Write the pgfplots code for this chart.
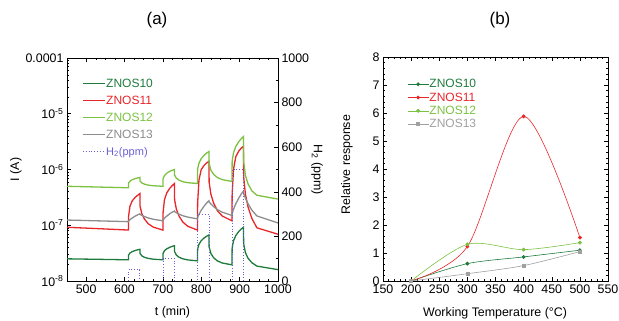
\documentclass[border=0pt]{standalone}
\usepackage{fontspec}
\setmainfont{Liberation Sans}
\usepackage{pgfplots}
\pgfplotsset{compat=1.18}
\definecolor{cA}{RGB}{30,123,60}
\definecolor{cB}{RGB}{232,38,42}
\definecolor{cC}{RGB}{124,193,66}
\definecolor{cD}{RGB}{140,140,140}
\definecolor{cE}{RGB}{160,160,160}
\definecolor{cH}{RGB}{105,95,215}
\begin{document}
\begin{tikzpicture}
\path[use as bounding box] (0pt,0pt) rectangle (619pt,321pt);
\pgfplotsset{every axis/.append style={
  font=\fontsize{12.4}{14}\selectfont,
  scale only axis, tick align=inside,
  major tick length=4pt, minor tick length=2.2pt,
  /pgf/number format/assume math mode=true,
  /pgf/number format/1000 sep={},
  axis line style={line width=0.6pt},
  every tick/.style={black, line width=0.5pt},
}}
\node[font=\fontsize{17}{20}\selectfont] at (157pt,301pt) {(a)};
\node[font=\fontsize{17}{20}\selectfont] at (500pt,301pt) {(b)};
% ---------- panel (a), left axis ----------
\begin{axis}[at={(67pt,40pt)}, anchor=south west, width=211pt, height=223pt,
  xmin=450, xmax=1000, ymode=log, ymin=1e-8, ymax=1e-4,
  xtick={500,600,...,1000}, minor x tick num=3,
  ytick={1e-8,1e-7,1e-6,1e-5,1e-4},
  yticklabels={10\textsuperscript{-8},10\textsuperscript{-7},10\textsuperscript{-6},10\textsuperscript{-5},0.0001},
  minor ytick={2e-8,3e-8,4e-8,5e-8,6e-8,7e-8,8e-8,9e-8,2e-7,3e-7,4e-7,5e-7,6e-7,7e-7,8e-7,9e-7,2e-6,3e-6,4e-6,5e-6,6e-6,7e-6,8e-6,9e-6,2e-5,3e-5,4e-5,5e-5,6e-5,7e-5,8e-5,9e-5},
  ytick pos=left,
  xlabel={t (min)}, ylabel={I (A)},
  xlabel style={at={(axis description cs:0.5,-0.139)}, anchor=center},
  ylabel style={at={(axis description cs:-0.242,0.5)}, anchor=center},
  legend style={at={(rel axis cs:0.058,0.922)}, anchor=north west, draw=none, fill=none,
    nodes={inner sep=0.5pt, text height=9pt, text depth=2pt}, row sep=5pt,
    font=\fontsize{12}{14}\selectfont},
  legend cell align=left,
  legend image code/.code={\draw[#1] (0pt,0pt) -- (22pt,0pt);},
]
\addplot[cA, line width=1.3pt] coordinates {(450,2.5e-8)(530,2.45e-8)(610,2.4e-8)(610.5,2.92e-8)(614,3.17e-8)(620,3.37e-8)(628,3.53e-8)(635,3.64e-8)(640,3.7e-8)(640.5,3.11e-8)(645,2.83e-8)(652,2.66e-8)(662,2.54e-8)(675,2.46e-8)(700,2.4e-8)
(700.5,3.12e-8)(704,3.49e-8)(710,3.78e-8)(718,4.03e-8)(725,4.20e-8)(730,4.3e-8)(730.5,3.35e-8)(735,2.92e-8)(742,2.67e-8)(752,2.50e-8)(765,2.39e-8)(790,2.3e-8)
(790.5,3.72e-8)(794,4.56e-8)(800,5.30e-8)(808,5.96e-8)(815,6.42e-8)(820,6.7e-8)(820.5,4.09e-8)(825,3.12e-8)(832,2.62e-8)(842,2.29e-8)(855,2.10e-8)(880,1.95e-8)
(880.5,3.92e-8)(884,5.27e-8)(890,6.54e-8)(898,7.76e-8)(905,8.65e-8)(910,9.2e-8)(910.5,4.68e-8)(915,3.23e-8)(922,2.55e-8)(932,2.12e-8)(945,1.85e-8)(1000,1.6e-8)};
\addlegendentry{\textcolor{cA}{ZNOS10}}
\addplot[cB, line width=1.3pt] coordinates {(450,9.2e-8)(530,8.7e-8)(610,8.2e-8)(610.5,1.45e-7)(614,2.18e-7)(620,2.74e-7)(628,3.18e-7)(635,3.48e-7)(640,3.7e-7)(640.5,2.18e-7)(645,1.62e-7)(652,1.29e-7)(662,1.06e-7)(675,9.25e-8)(700,8.2e-8)
(700.5,1.70e-7)(704,2.86e-7)(710,3.81e-7)(718,4.62e-7)(725,5.19e-7)(730,5.6e-7)(730.5,2.86e-7)(735,1.95e-7)(742,1.46e-7)(752,1.14e-7)(765,9.56e-8)(790,8.2e-8)
(790.5,2.5e-7)(794,6.5e-7)(800,1.0e-6)(808,1.2e-6)(815,1.33e-6)(820,1.4e-6)(820.5,5.93e-7)(825,3.63e-7)(832,2.51e-7)(842,1.82e-7)(855,1.46e-7)(880,1.2e-7)
(880.5,3.6e-7)(884,1.0e-6)(890,1.7e-6)(898,2.15e-6)(905,2.45e-6)(910,2.6e-6)(910.5,7.41e-7)(915,3.62e-7)(922,2.11e-7)(932,1.32e-7)(945,9.0e-8)(1000,6.9e-8)};
\addlegendentry{\textcolor{cB}{ZNOS11}}
\addplot[cC, line width=1.3pt] coordinates {(450,5.0e-7)(530,4.85e-7)(610,4.7e-7)(610.5,5.70e-7)(614,6.17e-7)(620,6.55e-7)(628,6.87e-7)(635,7.08e-7)(640,7.2e-7)(640.5,6.22e-7)(645,5.74e-7)(652,5.46e-7)(662,5.24e-7)(675,5.11e-7)(700,5.0e-7)
(700.5,6.83e-7)(704,7.79e-7)(710,8.59e-7)(718,9.27e-7)(725,9.73e-7)(730,1.0e-6)(730.5,7.93e-7)(735,6.98e-7)(742,6.44e-7)(752,6.04e-7)(765,5.80e-7)(790,5.6e-7)
(790.5,1.02e-6)(794,1.30e-6)(800,1.57e-6)(808,1.82e-6)(815,1.99e-6)(820,2.1e-6)(820.5,1.28e-6)(825,9.76e-7)(832,8.21e-7)(842,7.16e-7)(855,6.57e-7)(880,6.1e-7)
(880.5,1.41e-6)(884,2.00e-6)(890,2.59e-6)(898,3.18e-6)(905,3.62e-6)(910,3.9e-6)(910.5,1.39e-6)(915,7.87e-7)(922,5.48e-7)(932,4.13e-7)(945,3.45e-7)(1000,2.95e-7)};
\addlegendentry{\textcolor{cC}{ZNOS12}}
\addplot[cD, line width=1.3pt] coordinates {(450,1.24e-7)(530,1.2e-7)(610,1.16e-7)(610.5,1.19e-7)(614,1.26e-7)(620,1.35e-7)(628,1.46e-7)(635,1.55e-7)(640,1.6e-7)(640.5,1.56e-7)(645,1.50e-7)(652,1.43e-7)(662,1.35e-7)(675,1.28e-7)(700,1.2e-7)
(700.5,1.24e-7)(704,1.33e-7)(710,1.46e-7)(718,1.61e-7)(725,1.73e-7)(730,1.8e-7)(730.5,1.75e-7)(735,1.68e-7)(742,1.58e-7)(752,1.48e-7)(765,1.40e-7)(790,1.3e-7)
(790.5,1.38e-7)(794,1.57e-7)(800,1.86e-7)(808,2.23e-7)(815,2.55e-7)(820,2.75e-7)(820.5,2.62e-7)(825,2.41e-7)(832,2.16e-7)(842,1.91e-7)(855,1.71e-7)(880,1.5e-7)
(880.5,1.63e-7)(884,1.93e-7)(890,2.43e-7)(898,3.09e-7)(905,3.71e-7)(910,4.1e-7)(910.5,3.69e-7)(915,3.07e-7)(922,2.42e-7)(932,1.86e-7)(945,1.47e-7)(1000,1.1e-7)};
\addlegendentry{\textcolor{cD}{ZNOS13}}
\addlegendimage{cH, dotted, line width=0.8pt}
\addlegendentry{\fontsize{11}{13}\selectfont\textcolor{cH}{H\textsubscript{2}(ppm)}}
\end{axis}
% ---------- panel (a), right axis (H2) ----------
\begin{axis}[at={(67pt,40pt)}, anchor=south west, width=211pt, height=223pt,
  xmin=450, xmax=1000, ymin=0, ymax=1000,
  hide x axis, axis y line*=right,
  ytick={0,200,...,1000}, minor y tick num=1,
  ylabel={H\textsubscript{2} (ppm)},
  ylabel style={at={(axis description cs:1.185,0.5)}, anchor=center, rotate=180},
]
\addplot[cH, dotted, line width=0.8pt] coordinates {(450,0)(610,0)(610,50)(640,50)(640,0)(700,0)(700,100)(730,100)(730,0)(790,0)(790,300)(820,300)(820,0)(880,0)(880,500)(910,500)(910,0)(1000,0)};
\end{axis}
% ---------- panel (b) ----------
\begin{axis}[at={(383pt,40pt)}, anchor=south west, width=225pt, height=224pt,
  xmin=150, xmax=550, ymin=0, ymax=8,
  xtick={150,200,...,550}, ytick={0,1,...,8},
  minor x tick num=4, minor y tick num=4,
  xlabel={Working Temperature (°C)}, ylabel={Relative response},
  xlabel style={at={(axis description cs:0.498,-0.143)}, anchor=center},
  ylabel style={at={(axis description cs:-0.16,0.52)}, anchor=center},
  legend style={at={(rel axis cs:0.094,0.915)}, anchor=north west, draw=none, fill=none,
    nodes={inner sep=0.5pt, text height=9pt, text depth=2pt}, row sep=1.3pt,
    font=\fontsize{12}{14}\selectfont},
  legend cell align=left,
  legend image code/.code={\draw[mark repeat=2,mark phase=2,#1] plot coordinates {(0pt,0pt)(10.5pt,0pt)(21pt,0pt)};},
]
\addplot[cA, line width=0.6pt, smooth, mark=*, mark size=1.6pt] coordinates {(200,0)(300,0.62)(400,0.86)(500,1.1)};
\addlegendentry{\textcolor{cA}{ZNOS10}}
\addplot[cB, line width=0.6pt, smooth, mark=*, mark size=1.6pt] coordinates {(200,0)(300,1.23)(400,5.88)(500,1.55)};
\addlegendentry{\textcolor{cB}{ZNOS11}}
\addplot[cC, line width=0.6pt, smooth, mark=*, mark size=1.6pt] coordinates {(200,0)(300,1.31)(400,1.12)(500,1.37)};
\addlegendentry{\textcolor{cC}{ZNOS12}}
\addplot[cE, line width=0.6pt, smooth, mark=square*, mark size=1.5pt] coordinates {(200,0)(300,0.26)(400,0.55)(500,1.05)};
\addlegendentry{\textcolor{cE}{ZNOS13}}
\end{axis}
\end{tikzpicture}
\end{document}
